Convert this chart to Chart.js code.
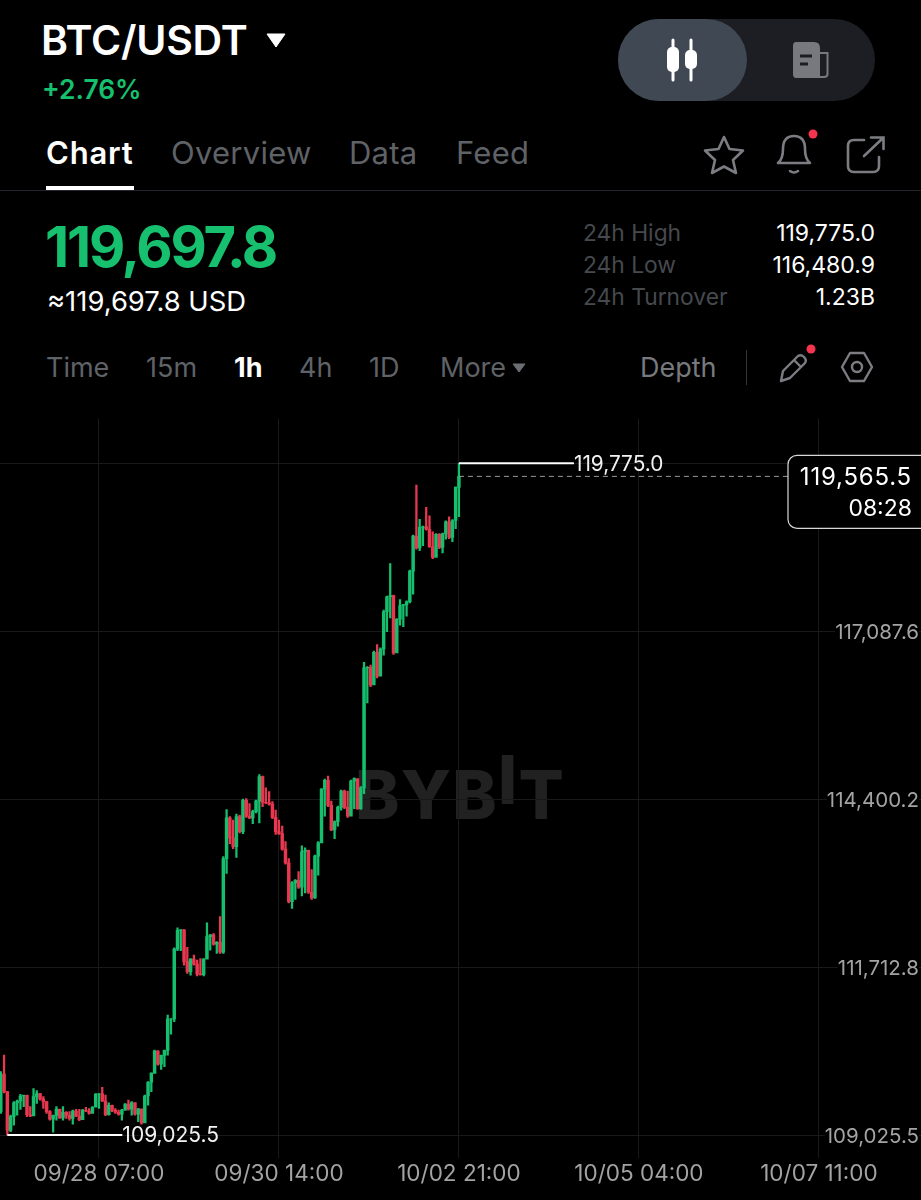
<!DOCTYPE html>
<html>
<head>
<meta charset="utf-8">
<title>BTC/USDT</title>
<script src="https://cdn.jsdelivr.net/npm/chart.js@4/dist/chart.umd.min.js"></script>
<style>
html, body { margin: 0; padding: 0; background: #000; }
body { position: relative; width: 921px; height: 1200px; overflow: hidden; font-family: Inter, "Noto Sans", sans-serif; color: #fff; }
.t { position: absolute; white-space: nowrap; line-height: 1; }
.dim { color: #46494e; font-size: 22.8px; left: 583px; }
.val { right: 46px; font-size: 23px; }
.tf { top: 354px; font-size: 27px; color: #5f6267; }
.tab { top: 137px; font-size: 31px; color: #5f6267; letter-spacing: 0.25px; }
svg { position: absolute; overflow: visible; }
#wm { position: absolute; left: 355px; top: 761px; font-size: 67px; font-weight: 800; line-height: 1; color: #212121; letter-spacing: 1.2px; }
#wm span { position: relative; top: -15px; }
canvas { position: absolute; left: 0; top: 408px; }
</style>
</head>
<body>

<div class="t" style="left:41px;top:20px;font-size:41px;font-weight:600;letter-spacing:-0.25px">BTC/USDT</div>
<svg style="left:266px;top:33px" width="20" height="15"><path d="M1 1 H19 L10 14 Z" fill="#fff" stroke="#fff" stroke-linejoin="round"/></svg>
<div class="t" style="left:42px;top:76px;font-size:26.4px;font-weight:600;color:#16c06f">+2.76%</div>

<div style="position:absolute;left:618px;top:19px;width:257px;height:82px;border-radius:41px;background:#1c1e23"></div>
<div style="position:absolute;left:618px;top:19px;width:129px;height:82px;border-radius:41px;background:#404853"></div>
<svg style="left:664px;top:39px" width="40" height="42">
  <path d="M9 1 V41 M27 1 V41" stroke="#fff" stroke-width="3" stroke-linecap="round"/>
  <rect x="3" y="8" width="12" height="25" rx="5" fill="#fff"/>
  <rect x="21" y="11" width="12" height="19" rx="5" fill="#fff"/>
</svg>
<svg style="left:792px;top:42px" width="38" height="38">
  <path d="M4 0 H22 Q28 0 28 6 V36 H4 Q1 36 1 32 V4 Q1 0 4 0 Z" fill="#77797e"/>
  <path d="M28 11 H35.5 V32 Q35.5 35 32 35 H28" fill="none" stroke="#77797e" stroke-width="2"/>
  <path d="M8 14 H20 M8 22 H16" stroke="#1c1e23" stroke-width="3"/>
</svg>

<div class="t" style="left:46px;top:137px;font-size:31px;font-weight:600;letter-spacing:0.8px">Chart</div>
<div class="t tab" style="left:171px">Overview</div>
<div class="t tab" style="left:349px">Data</div>
<div class="t tab" style="left:456px">Feed</div>
<div style="position:absolute;left:0;top:190px;width:921px;height:1px;background:#24262b"></div>
<div style="position:absolute;left:46px;top:186px;width:88px;height:4px;background:#fff"></div>

<svg style="left:704px;top:135px" width="40" height="40"><path d="M20 2 L25.5 14 L39 15.5 L29 25 L32 38 L20 31.5 L8 38 L11 25 L1 15.5 L14.5 14 Z" fill="none" stroke="#7b7d82" stroke-width="2.6" stroke-linejoin="round"/></svg>
<svg style="left:776px;top:134px" width="36" height="42">
  <path d="M2 29 Q7 25 7 15 Q7 2 18 2 Q29 2 29 15 Q29 25 34 29 Z" fill="none" stroke="#7b7d82" stroke-width="2.6" stroke-linejoin="round"/>
  <path d="M14 37 Q18 40 22 37" fill="none" stroke="#7b7d82" stroke-width="2.6" stroke-linecap="round"/>
</svg>
<svg style="left:808px;top:129px" width="10" height="10"><circle cx="5" cy="5" r="4.5" fill="#f5344f"/></svg>
<svg style="left:847px;top:136px" width="38" height="38">
  <path d="M17 4 H7 Q1 4 1 10 V30 Q1 36 7 36 H26 Q32 36 32 30 V21" fill="none" stroke="#7b7d82" stroke-width="2.6" stroke-linecap="round"/>
  <path d="M17 20 L36 2 M24 1.5 H36.5 V13" fill="none" stroke="#7b7d82" stroke-width="2.6" stroke-linecap="round"/>
</svg>

<div class="t" style="left:45px;top:219px;font-size:56px;font-weight:700;letter-spacing:-2.2px;color:#16c06f">119,697.8</div>
<div class="t" style="left:47px;top:288px;font-size:27.4px">≈119,697.8 USD</div>

<div class="t dim" style="top:222px">24h High</div>
<div class="t dim" style="top:254px">24h Low</div>
<div class="t dim" style="top:286px">24h Turnover</div>
<div class="t val" style="top:222px">119,775.0</div>
<div class="t val" style="top:254px">116,480.9</div>
<div class="t val" style="top:286px">1.23B</div>

<div class="t tf" style="left:46px">Time</div>
<div class="t tf" style="left:146px">15m</div>
<div class="t tf" style="left:234px;color:#fff;font-weight:700">1h</div>
<div class="t tf" style="left:299px">4h</div>
<div class="t tf" style="left:369px">1D</div>
<div class="t tf" style="left:440px">More</div>
<svg style="left:512px;top:363px" width="14" height="10"><path d="M1 1 H13 L7 9 Z" fill="#6b6e73" stroke="#6b6e73" stroke-linejoin="round"/></svg>
<div class="t tf" style="left:640px;color:#77797e">Depth</div>
<div style="position:absolute;left:746px;top:350px;width:1px;height:35px;background:#33353a"></div>
<svg style="left:779px;top:353px" width="30" height="30">
  <path d="M2 28 L4 18 L19 3 Q22 1 25 4 Q28 7 26 10 L11 25 Z M15 7 L22 14" fill="none" stroke="#7b7d82" stroke-width="2.4" stroke-linejoin="round"/>
</svg>
<svg style="left:806px;top:344px" width="10" height="10"><circle cx="5" cy="5" r="4.5" fill="#f5344f"/></svg>
<svg style="left:841px;top:352px" width="32" height="30">
  <path d="M9 1 H23 L31 15 L23 29 H9 L1 15 Z" fill="none" stroke="#7b7d82" stroke-width="2.4" stroke-linejoin="round"/>
  <circle cx="16" cy="15" r="5" fill="none" stroke="#7b7d82" stroke-width="2.4"/>
</svg>

<div id="wm">BYB<span>I</span>T</div>

<canvas id="chart" width="921" height="792"></canvas>

<script>
// 1h candles, oldest first
const highs = [
  110040, 110305, 109720, 109345, 109560, 109585, 109675, 109665, 109665, 109480,
  109770, 109735, 109690, 109640, 109560, 109415, 109345, 109480, 109435, 109480,
  109400, 109400, 109425, 109435, 109435, 109435, 109470, 109450, 109480, 109690,
  109690, 109790, 109665, 109540, 109505, 109450, 109425, 109435, 109530, 109585,
  109560, 109520, 109450, 109435, 109665, 109880, 110020, 110385, 110375, 110305,
  110385, 110945, 110890, 112020, 112340, 112315, 112315, 112030, 111850, 111905,
  111825, 111850, 111850, 112420, 112235, 112250, 112120, 112520, 113480, 114235,
  114120, 114065, 114160, 114145, 114400, 114410, 114330, 114225, 114385, 114795,
  114770, 114580, 114520, 114360, 114225, 114065, 113970, 113720, 113450, 113080,
  113115, 113240, 113655, 113620, 113585, 113275, 113505, 113720, 114570, 114720,
  114770, 114370, 114055, 114290, 114545, 114545, 114530, 114705, 114740, 114635,
  114600, 116590, 116520, 116545, 116770, 116875, 116820, 117425, 117650, 118170,
  117665, 117290, 117595, 117520, 117575, 118065, 118625, 119425, 118880, 118770,
  119070, 118935, 118680, 118650, 118650, 118660, 118855, 118920, 118875, 119400,
  119775
];
const lows = [
  109370, 109700, 109025, 109080, 109185, 109345, 109435, 109480, 109320, 109320,
  109370, 109530, 109585, 109450, 109370, 109265, 109070, 109265, 109290, 109265,
  109290, 109265, 109200, 109320, 109255, 109360, 109400, 109360, 109400, 109480,
  109450, 109560, 109335, 109345, 109400, 109370, 109345, 109265, 109425, 109425,
  109345, 109345, 109240, 109200, 109320, 109505, 109720, 110010, 110145, 110075,
  110120, 110305, 110640, 110840, 111975, 111975, 111745, 111610, 111585, 111745,
  111570, 111585, 111570, 111850, 111985, 112065, 111930, 111930, 111930, 113210,
  113690, 113610, 113470, 113860, 113850, 114110, 114090, 114010, 114180, 114020,
  114280, 114330, 114305, 114090, 113835, 113835, 113585, 113360, 112740, 112650,
  112795, 112970, 112850, 112900, 112890, 112795, 112810, 113185, 113720, 114130,
  114280, 113895, 113770, 113970, 114225, 114250, 114110, 114145, 114250, 114235,
  114235, 114490, 115940, 116200, 116250, 116340, 116385, 116705, 117080, 117300,
  116715, 116760, 117185, 117160, 117330, 117540, 117680, 118400, 118375, 118455,
  118705, 118430, 118250, 118290, 118410, 118340, 118560, 118570, 118520, 118730,
  118920
];
const closes = [
  110000, 109720, 109100, 109320, 109540, 109570, 109650, 109660, 109350, 109330,
  109640, 109690, 109600, 109560, 109400, 109280, 109340, 109440, 109300, 109390,
  109340, 109290, 109410, 109330, 109270, 109420, 109410, 109370, 109470, 109680,
  109685, 109570, 109350, 109500, 109420, 109390, 109360, 109425, 109520, 109440,
  109545, 109360, 109445, 109220, 109650, 109870, 110015, 110370, 110160, 110300,
  110380, 110880, 110885, 112000, 112300, 112310, 111800, 111640, 111840, 111760,
  111600, 111590, 111840, 112200, 112230, 112080, 112110, 111950, 113450, 114100,
  113780, 113640, 114120, 113880, 114380, 114130, 114100, 114200, 114370, 114760,
  114350, 114340, 114320, 114110, 113880, 113850, 113600, 113380, 112760, 113060,
  113100, 112990, 113560, 113580, 112910, 112820, 113490, 113700, 114560, 114700,
  114300, 113910, 114040, 114270, 114530, 114270, 114130, 114690, 114730, 114250,
  114580, 116500, 116510, 116230, 116750, 116370, 116800, 117400, 117640, 117660,
  116740, 117280, 117500, 117510, 117560, 118050, 118610, 118420, 118750, 118760,
  118720, 118440, 118270, 118640, 118430, 118650, 118840, 118590, 118860, 119390,
  119565.5
];
const firstOpen = 109400;

const priceTicks = [109025.5, 111712.8, 114400.2, 117087.6, 119775.0];
const priceLabels = ['109,025.5', '111,712.8', '114,400.2', '117,087.6', ''];
const timeTicks = [30, 85, 140, 195, 250];
const timeLabels = ['09/28 07:00', '09/30 14:00', '10/02 21:00', '10/05 04:00', '10/07 11:00'];

const lowValue = 109025.5, lowIndex = 2, lowLabel = '109,025.5';
const highValue = 119775.0, highIndex = 140, highLabel = '119,775.0';
const lastPrice = 119565.5, lastPriceLabel = '119,565.5', countdown = '08:28';

const UP = '#16bf6e', DOWN = '#e8384f';
const opens = closes.map((c, i) => i === 0 ? firstOpen : closes[i - 1]);
const colors = closes.map((c, i) => c >= opens[i] ? UP : DOWN);

// high/low lines, last price line and the price box sit on top of the candles
const markers = {
  id: 'markers',
  afterDatasetsDraw(chart) {
    const { ctx, scales: { x, y } } = chart;
    ctx.save();
    ctx.textBaseline = 'middle';

    const yLow = y.getPixelForValue(lowValue);
    ctx.strokeStyle = '#fff';
    ctx.lineWidth = 2;
    ctx.beginPath();
    ctx.moveTo(x.getPixelForValue(lowIndex), yLow);
    ctx.lineTo(x.getPixelForValue(lowIndex) + 115, yLow);
    ctx.stroke();
    ctx.fillStyle = '#f2f2f2';
    ctx.font = '400 21px Inter';
    ctx.fillText(lowLabel, x.getPixelForValue(lowIndex) + 115, yLow + 1);

    const yHigh = y.getPixelForValue(highValue);
    ctx.beginPath();
    ctx.moveTo(x.getPixelForValue(highIndex), yHigh);
    ctx.lineTo(x.getPixelForValue(highIndex) + 115, yHigh);
    ctx.stroke();
    ctx.font = '400 20.8px Inter';
    ctx.fillText(highLabel, x.getPixelForValue(highIndex) + 115, yHigh + 1);

    const yLast = y.getPixelForValue(lastPrice);
    ctx.strokeStyle = '#9a9a9a';
    ctx.lineWidth = 1;
    ctx.setLineDash([5, 4]);
    ctx.beginPath();
    ctx.moveTo(x.getPixelForValue(highIndex), yLast);
    ctx.lineTo(788, yLast);
    ctx.stroke();
    ctx.setLineDash([]);

    ctx.fillStyle = '#000';
    ctx.strokeStyle = '#d8d8d8';
    ctx.lineWidth = 1.2;
    ctx.beginPath();
    ctx.roundRect(788, yLast - 21, 150, 73, 9);
    ctx.fill();
    ctx.stroke();
    ctx.fillStyle = '#fff';
    ctx.textAlign = 'right';
    ctx.font = '400 24px Inter';
    ctx.letterSpacing = '0.8px';
    ctx.fillText(lastPriceLabel, 912, yLast + 1);
    ctx.letterSpacing = '0px';
    ctx.font = '400 23px Inter';
    ctx.fillText(countdown, 912, yLast + 33);
    ctx.restore();
  }
};

new Chart(document.getElementById('chart').getContext('2d'), {
  type: 'bar',
  plugins: [markers],
  data: {
    datasets: [
      {
        label: 'wick',
        data: highs.map((h, i) => ({ x: i, y: [lows[i], h] })),
        backgroundColor: colors,
        barThickness: 1.6,
        grouped: false
      },
      {
        label: 'body',
        data: closes.map((c, i) => ({ x: i, y: [opens[i], c] })),
        backgroundColor: colors,
        barThickness: 2.8,
        grouped: false
      }
    ]
  },
  options: {
    responsive: false,
    animation: false,
    events: [],
    layout: { padding: { top: 3, left: 0, right: 0, bottom: 0 } },
    plugins: { legend: { display: false }, tooltip: { enabled: false } },
    scales: {
      x: {
        type: 'linear',
        offset: false,
        min: -0.244,
        max: 281.2,
        afterBuildTicks: axis => { axis.ticks = timeTicks.map(v => ({ value: v })); },
        afterFit: axis => { axis.height = 42; },
        border: { display: false },
        grid: { color: '#17191d', offset: false, drawTicks: false },
        ticks: {
          color: '#a3a3a3',
          font: { family: 'Inter', size: 22.5 },
          padding: 3,
          maxRotation: 0,
          autoSkip: false,
          callback: v => timeLabels[timeTicks.indexOf(v)]
        }
      },
      y: {
        position: 'right',
        min: 108658,
        max: 120495,
        afterBuildTicks: axis => { axis.ticks = priceTicks.map(v => ({ value: v })); },
        afterFit: axis => { axis.width = 0; },
        border: { display: false },
        grid: { color: '#17191d', drawTicks: false },
        ticks: {
          mirror: true,
          color: '#a3a3a3',
          font: { family: 'Inter', size: 20.5 },
          padding: -2,
          labelOffset: 2,
          autoSkip: false,
          showLabelBackdrop: true,
          backdropColor: '#000',
          backdropPadding: 0,
          callback: v => priceLabels[priceTicks.indexOf(v)]
        }
      }
    }
  }
});
</script>
</body>
</html>
